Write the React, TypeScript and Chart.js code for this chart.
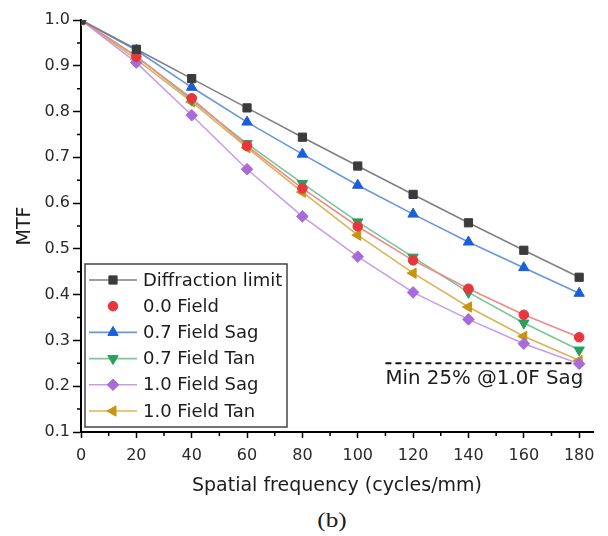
import { useEffect, useRef } from "react";
import { Chart, registerables } from "chart.js";

Chart.register(...registerables);

// ---- data ----
const frequencies = [0, 20, 40, 60, 80, 100, 120, 140, 160, 180];
const diffractionLimit = [1.0, 0.936, 0.872, 0.808, 0.744, 0.681, 0.619, 0.557, 0.497, 0.438];
const field00 = [1.0, 0.92, 0.829, 0.725, 0.632, 0.549, 0.475, 0.413, 0.356, 0.307];
const field07Sag = [1.0, 0.934, 0.853, 0.777, 0.707, 0.639, 0.576, 0.515, 0.459, 0.403];
const field07Tan = [1.0, 0.921, 0.825, 0.73, 0.643, 0.559, 0.482, 0.405, 0.338, 0.279];
const field10Sag = [1.0, 0.907, 0.792, 0.674, 0.571, 0.483, 0.405, 0.346, 0.293, 0.249];
const field10Tan = [1.0, 0.914, 0.821, 0.721, 0.624, 0.53, 0.447, 0.373, 0.309, 0.256];

const seriesLabels = [
  "Diffraction limit",
  "0.0 Field",
  "0.7 Field Sag",
  "0.7 Field Tan",
  "1.0 Field Sag",
  "1.0 Field Tan",
];

const xTickValues = [0, 20, 40, 60, 80, 100, 120, 140, 160, 180];
const xMinorTicks = [10, 30, 50, 70, 90, 110, 130, 150, 170];
const yTickValues = [0.1, 0.2, 0.3, 0.4, 0.5, 0.6, 0.7, 0.8, 0.9, 1.0];
const yMinorTicks = [0.15, 0.25, 0.35, 0.45, 0.55, 0.65, 0.75, 0.85, 0.95];

const thresholdValue = 0.25;
const thresholdRange = [110, 180];
const thresholdLabel = "Min 25% @1.0F Sag";

const xTitle = "Spatial frequency (cycles/mm)";
const yTitle = "MTF";
const captionText = "(b)";

// ---- styles ----
const FONT = "'DejaVu Sans', 'Liberation Sans', Arial, sans-serif";
const TEXT = "#1c1c1c";

type Style = {
  marker: string;
  line: string;
  pointStyle: string;
  rotation: number;
  radius: number;
  legendLine: boolean;
};

const styles: Style[] = [
  { marker: "#3b3b3b", line: "#808080", pointStyle: "rect", rotation: 0, radius: 5.8, legendLine: true },
  { marker: "#e8363c", line: "#f08a8a", pointStyle: "circle", rotation: 0, radius: 4.8, legendLine: false },
  { marker: "#1a5fd8", line: "#6696e0", pointStyle: "triangle", rotation: 0, radius: 6, legendLine: true },
  { marker: "#27a05c", line: "#78c896", pointStyle: "triangle", rotation: 180, radius: 6, legendLine: true },
  { marker: "#a86bd9", line: "#c69ee8", pointStyle: "rectRot", rotation: 0, radius: 5.8, legendLine: true },
  { marker: "#c7960e", line: "#d9b458", pointStyle: "triangle", rotation: -90, radius: 6, legendLine: true },
];

const seriesValues = [diffractionLimit, field00, field07Sag, field07Tan, field10Sag, field10Tan];

function drawMarker(ctx: CanvasRenderingContext2D, s: Style, x: number, y: number) {
  ctx.save();
  ctx.fillStyle = s.marker;
  ctx.strokeStyle = s.marker;
  ctx.lineWidth = 1;
  ctx.translate(x, y);
  ctx.rotate((s.rotation * Math.PI) / 180);
  const r = s.radius;
  ctx.beginPath();
  if (s.pointStyle === "rect") {
    const h = Math.SQRT1_2 * r;
    ctx.rect(-h, -h, 2 * h, 2 * h);
  } else if (s.pointStyle === "circle") {
    ctx.arc(0, 0, r, 0, Math.PI * 2);
  } else if (s.pointStyle === "triangle") {
    ctx.moveTo(0, -r);
    ctx.lineTo(r * Math.cos(Math.PI / 6), r * 0.5);
    ctx.lineTo(-r * Math.cos(Math.PI / 6), r * 0.5);
    ctx.closePath();
  } else if (s.pointStyle === "rectRot") {
    ctx.moveTo(0, -r);
    ctx.lineTo(r, 0);
    ctx.lineTo(0, r);
    ctx.lineTo(-r, 0);
    ctx.closePath();
  }
  ctx.fill();
  ctx.stroke();
  ctx.restore();
}

const extrasPlugin = {
  id: "extras",
  afterDraw(chart: any) {
    const ctx: CanvasRenderingContext2D = chart.ctx;
    const xs = chart.scales.x;
    const ys = chart.scales.y;
    const area = chart.chartArea;

    // minor ticks
    ctx.save();
    ctx.strokeStyle = "#000";
    ctx.lineWidth = 1.5;
    ctx.beginPath();
    xMinorTicks.forEach((v) => {
      const px = xs.getPixelForValue(v);
      ctx.moveTo(px, area.bottom);
      ctx.lineTo(px, area.bottom + 4);
    });
    yMinorTicks.forEach((v) => {
      const py = ys.getPixelForValue(v);
      ctx.moveTo(area.left - 4, py);
      ctx.lineTo(area.left, py);
    });
    ctx.stroke();
    ctx.restore();

    // threshold label
    ctx.save();
    ctx.font = `19.8px ${FONT}`;
    ctx.fillStyle = TEXT;
    ctx.textAlign = "left";
    ctx.textBaseline = "alphabetic";
    ctx.fillText(
      thresholdLabel,
      xs.getPixelForValue(thresholdRange[0]),
      ys.getPixelForValue(thresholdValue) + 21
    );
    ctx.restore();

    // legend
    const boxLeft = area.left + 4;
    const boxW = 202;
    const boxH = 163;
    const boxTop = area.bottom - 5 - boxH;
    ctx.save();
    ctx.fillStyle = "#ffffff";
    ctx.fillRect(boxLeft, boxTop, boxW, boxH);
    ctx.strokeStyle = "#444";
    ctx.lineWidth = 1.5;
    ctx.strokeRect(boxLeft, boxTop, boxW, boxH);
    ctx.font = `18px ${FONT}`;
    ctx.textAlign = "left";
    ctx.textBaseline = "middle";
    seriesLabels.forEach((label, i) => {
      const s = styles[i];
      const cy = boxTop + 16 + i * 26.2;
      if (s.legendLine) {
        ctx.strokeStyle = s.line;
        ctx.lineWidth = 1.6;
        ctx.beginPath();
        ctx.moveTo(boxLeft + 4, cy);
        ctx.lineTo(boxLeft + 52, cy);
        ctx.stroke();
      }
      drawMarker(ctx, s, boxLeft + 28, cy);
      ctx.fillStyle = TEXT;
      ctx.fillText(label, boxLeft + 58, cy + 1);
    });
    ctx.restore();
  },
};

export default function App() {
  const canvasRef = useRef<HTMLCanvasElement | null>(null);

  useEffect(() => {
    if (!canvasRef.current) return;
    const datasets: any[] = seriesValues.map((vals, i) => {
      const s = styles[i];
      return {
        label: seriesLabels[i],
        data: frequencies.map((f, j) => ({ x: f, y: vals[j] })),
        borderColor: s.line,
        backgroundColor: s.marker,
        pointBackgroundColor: s.marker,
        pointBorderColor: s.marker,
        pointBorderWidth: 1,
        pointStyle: s.pointStyle,
        pointRotation: s.rotation,
        pointRadius: s.radius,
        borderWidth: 1.6,
        tension: 0,
        fill: false,
      };
    });
    datasets.push({
      label: "threshold",
      data: thresholdRange.map((x) => ({ x, y: thresholdValue })),
      borderColor: "#111",
      borderWidth: 2,
      borderDash: [6, 4],
      pointRadius: 0,
      fill: false,
    });

    const chart = new Chart(canvasRef.current, {
      type: "line",
      data: { datasets },
      options: {
        animation: false,
        responsive: false,
        layout: { padding: { top: 20, right: 15, left: 0, bottom: 0 } },
        plugins: {
          legend: { display: false },
          tooltip: { enabled: false },
        },
        scales: {
          x: {
            type: "linear",
            min: 0,
            max: 185,
            afterBuildTicks: (scale: any) => {
              scale.ticks = xTickValues.map((v) => ({ value: v }));
            },
            afterFit: (scale: any) => {
              scale.height = 68;
            },
            grid: {
              display: true,
              drawOnChartArea: false,
              drawTicks: true,
              tickLength: 6,
              tickColor: "#000",
              tickWidth: 1.5,
            },
            border: { display: true, color: "#000", width: 2 },
            ticks: {
              color: "#2a2a2a",
              font: { family: FONT, size: 16 },
              padding: 8,
              maxRotation: 0,
              autoSkip: false,
              callback: (v: any) => String(v),
            },
            title: {
              display: true,
              text: xTitle,
              color: TEXT,
              font: { family: FONT, size: 19 },
              padding: { top: 0, bottom: 3 },
            },
          },
          y: {
            type: "linear",
            min: 0.1,
            max: 1.0,
            afterBuildTicks: (scale: any) => {
              scale.ticks = yTickValues.map((v) => ({ value: v }));
            },
            afterFit: (scale: any) => {
              scale.width = 81;
            },
            grid: {
              display: true,
              drawOnChartArea: false,
              drawTicks: true,
              tickLength: 8,
              tickColor: "#000",
              tickWidth: 1.5,
            },
            border: { display: true, color: "#000", width: 2 },
            ticks: {
              color: "#2a2a2a",
              font: { family: FONT, size: 16 },
              padding: 3,
              autoSkip: false,
              callback: (v: any) => Number(v).toFixed(1),
            },
            title: {
              display: true,
              text: yTitle,
              color: TEXT,
              font: { family: FONT, size: 19 },
              padding: { top: 14, bottom: 0 },
            },
          },
        },
      },
      plugins: [extrasPlugin],
    });
    return () => chart.destroy();
  }, []);

  return (
    <div style={{ position: "fixed", left: 0, top: 0, width: 608, height: 536, background: "#fff" }}>
      <canvas ref={canvasRef} width={608} height={500} style={{ display: "block" }} />
      <div
        style={{
          position: "absolute",
          left: 332,
          top: 508,
          transform: "translateX(-50%) scaleX(1.2)",
          fontFamily: "'Liberation Serif', 'Times New Roman', serif",
          fontSize: 21,
          lineHeight: "24px",
          color: TEXT,
          whiteSpace: "nowrap",
        }}
      >
        {captionText}
      </div>
    </div>
  );
}
